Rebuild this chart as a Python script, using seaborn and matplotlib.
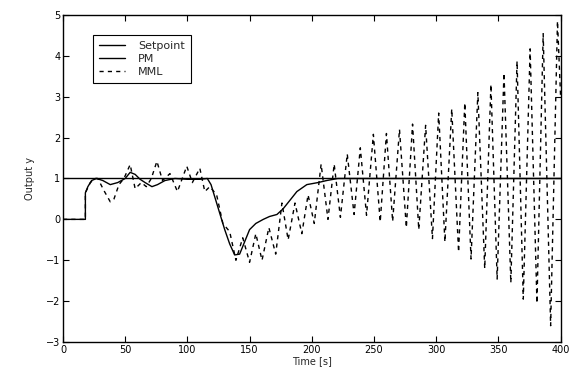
import numpy as np
import pandas as pd
import seaborn as sns
import matplotlib.pyplot as plt

# setpoint
sp_t = [0, 400]
sp_y = [1, 1]

# PM response
pm_t = [0, 18, 18, 20, 23, 27, 32, 38, 44, 50, 54, 58, 62, 66, 71.5, 76, 82, 90, 100, 110, 116,
        119, 122, 126, 130, 134, 138, 142, 146, 150, 155, 161, 166, 172, 177, 182, 188, 196, 205,
        212, 221, 400]
pm_y = [0, 0, 0.65, 0.8, 0.95, 1.0, 0.95, 0.85, 0.9, 1.0, 1.15, 1.1, 0.98, 0.9, 0.8, 0.85, 0.95,
        1.0, 0.98, 0.98, 1.0, 0.85, 0.55, 0.15, -0.25, -0.6, -0.87, -0.85, -0.55, -0.25, -0.1, 0.0,
        0.07, 0.12, 0.26, 0.45, 0.68, 0.85, 0.9, 0.95, 1.0, 1.0]

# MML response (peaks / troughs)
mml_t = [0, 18, 18, 22, 26, 28, 33, 38, 41, 45, 49, 54, 58, 63, 67, 71, 75.5, 80, 86, 92, 99.5,
         104, 110, 114, 118, 123.5, 128.5, 134, 139, 144.5, 150, 155, 160, 165.5, 171, 176, 181,
         186.5, 192, 197, 202, 207.5, 213, 218, 223, 228.5, 234, 239, 244, 249.5, 255, 260, 265,
         270.5, 276, 281, 286, 291.5, 297, 302, 307, 312.5, 318, 323, 328, 333.5, 339, 344, 349,
         354.5, 360, 365, 370, 375.5, 381, 386, 392, 397.5, 400]
mml_y = [0, 0, 0.65, 0.9, 1.0, 1.0, 0.7, 0.43, 0.5, 0.85, 1.0, 1.34, 0.75, 0.9, 0.8, 1.0, 1.42,
         0.95, 1.12, 0.68, 1.3, 0.9, 1.25, 0.68, 0.8, 0.6, -0.1, -0.3, -1.0, -0.45, -1.05, -0.35,
         -1.0, -0.2, -0.85, 0.4, -0.5, 0.4, -0.35, 0.6, -0.1, 1.35, 0.0, 1.35, 0.05, 1.6, 0.12,
         1.75, 0.1, 2.08, -0.06, 2.1, -0.05, 2.2, -0.2, 2.33, -0.25, 2.3, -0.47, 2.6, -0.55, 2.7,
         -0.8, 2.85, -0.97, 3.1, -1.2, 3.3, -1.46, 3.58, -1.55, 3.87, -1.95, 4.17, -2.05, 4.54,
         -2.6, 4.85, 3.0]

sns.set_style("ticks")
plt.rcParams['font.family'] = ['DejaVu Sans']

fig = plt.figure(figsize=(5.7, 3.73), dpi=100)
ax = fig.add_axes([0.1105, 0.083, 0.873, 0.877])

sns.lineplot(x=sp_t, y=sp_y, estimator=None, sort=False, color='black', lw=1.0,
             label='Setpoint', ax=ax)
sns.lineplot(x=pm_t, y=pm_y, estimator=None, sort=False, color='black', lw=1.0,
             label='PM', ax=ax)
sns.lineplot(x=mml_t, y=mml_y, estimator=None, sort=False, color='black', lw=1.0,
             linestyle=(0, (3, 3)), label='MML', ax=ax)

ax.set_xlim(0, 400)
ax.set_ylim(-3, 5)
ax.set_xticks(range(0, 401, 50))
ax.set_yticks(range(-3, 6))
ax.tick_params(direction='in', top=True, right=True, labelsize=7, length=4, width=0.8,
               colors='black', pad=2)
for s in ax.spines.values():
    s.set_visible(True)
    s.set_color('black')
    s.set_linewidth(1.0)
ax.set_xlabel('Time [s]', fontsize=7, labelpad=1)
ax.set_ylabel('Output y', fontsize=7, labelpad=8)

leg = ax.legend(loc='upper left', bbox_to_anchor=(0.06, 0.94), borderaxespad=0, fontsize=8,
                frameon=True, fancybox=False, edgecolor='black', framealpha=1,
                handlelength=2.3, handletextpad=1.2, labelspacing=0.3, borderpad=0.55)
leg.get_frame().set_linewidth(0.8)

fig.savefig('out.png', dpi=100)
